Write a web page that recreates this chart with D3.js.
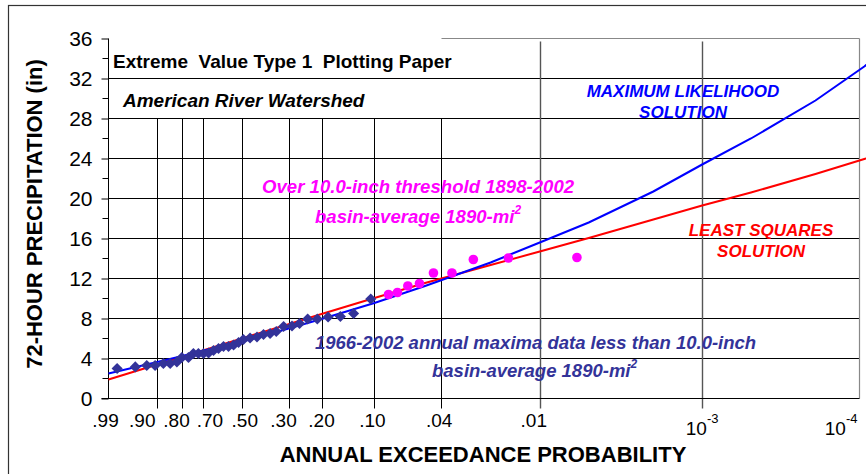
<!DOCTYPE html>
<html>
<head>
<meta charset="utf-8">
<script src="https://cdn.jsdelivr.net/npm/d3@7"></script>
<style>
  html, body { margin: 0; padding: 0; background: #fff; }
  svg { display: block; font-family: "Liberation Sans", Arial, Helvetica, sans-serif; }
  text { white-space: pre; }
</style>
</head>
<body>
<svg id="chart" width="866" height="474"></svg>
<script>
// ---------------- data ----------------
const yTicks = [0, 4, 8, 12, 16, 20, 24, 28, 32, 36];
const yMinorTicks = [2, 6, 10, 14, 18, 22, 26, 30, 34];
const xTickProbs = [0.99, 0.90, 0.80, 0.70, 0.50, 0.30, 0.20, 0.10, 0.04, 0.01, 0.001, 0.0001];
const xTickLabels = [".99", ".90", ".80", ".70", ".50", ".30", ".20", ".10", ".04", ".01", "10|-3", "10|-4"];
const xDomainProbs = [0.99, 0.000107];

// 1966-2002 annual maxima below 10.0 inch (exceedance probability, inches)
const annualProbs = [0.983, 0.957, 0.931, 0.907, 0.879, 0.853, 0.825, 0.803, 0.772, 0.748,
  0.723, 0.697, 0.671, 0.645, 0.619, 0.593, 0.567, 0.541, 0.516, 0.492,
  0.460, 0.428, 0.399, 0.371, 0.346, 0.318, 0.288, 0.263, 0.238, 0.211,
  0.184, 0.157, 0.132, 0.105];
const annualValues = [3.0, 3.16, 3.3, 3.3, 3.5, 3.5, 3.66, 4.1, 4.1, 4.5,
  4.5, 4.5, 4.55, 4.8, 5.0, 5.2, 5.2, 5.35, 5.6, 5.9,
  6.05, 6.15, 6.4, 6.5, 6.7, 7.2, 7.25, 7.5, 7.95, 7.95,
  8.15, 8.2, 8.5, 9.95];

// over 10.0-inch threshold 1898-2002
const thresholdProbs = [0.0826, 0.0731, 0.0634, 0.0540, 0.0445, 0.0344, 0.0255, 0.01557, 0.00591];
const thresholdValues = [10.4, 10.6, 11.25, 11.5, 12.55, 12.55, 13.9, 14.05, 14.1];

// fitted frequency curves
const curveProbs = [0.99, 0.9, 0.8, 0.7, 0.5, 0.3, 0.2, 0.1, 0.05, 0.02, 0.01, 0.005, 0.002, 0.001, 0.0005, 0.0002, 0.0001, 0.00009];
const mlValues = [2.5, 3.65, 4.25, 4.78, 5.68, 7.0, 7.95, 9.55, 11.25, 13.6, 15.6, 17.6, 20.7, 23.4, 26.0, 29.8, 33.2, 33.8];
const lsValues = [1.9, 3.4, 4.18, 4.8, 6.0, 7.43, 8.45, 10.05, 11.55, 13.35, 14.7, 16.05, 17.9, 19.3, 20.6, 22.45, 23.95, 24.15];

// ---------------- drawing ----------------
(function () {
const gumbel = p => -Math.log(-Math.log(1 - p));
const svg = d3.select("#chart");
const pLeft = 108.5, pRight = 859.5, pTop = 38.5, pBottom = 398.5;
// small horizontal nudges of the tick labels (they were hand placed in the original)
const labelNudge = [-3, -15, -6, 7, 3, -5, 0, -2, -2, -6, 0, 0];

const x = d3.scaleLinear().domain(xDomainProbs.map(gumbel)).range([pLeft, pRight]);
const y = d3.scaleLinear().domain([0, 36]).range([pBottom, pTop]);
const px = p => Math.round(x(gumbel(p))) + 0.5;

svg.append("rect").attr("width", 866).attr("height", 474).attr("fill", "#fff");
// outer frame
svg.append("rect").attr("x", 8.5).attr("y", 5.5).attr("width", 900).attr("height", 500)
  .attr("fill", "none").attr("stroke", "#333").attr("stroke-width", 1.2);

// horizontal gridlines
svg.append("g").selectAll("line").data(yTicks.filter(v => v > 0 && v < 36)).join("line")
  .attr("x1", pLeft).attr("x2", pRight).attr("y1", d => y(d)).attr("y2", d => y(d))
  .attr("stroke", "#000").attr("stroke-width", 1);

// vertical gridlines (black, up to 28) for .90 ... .04
const gridProbs = xTickProbs.filter(p => p < 0.99 && p >= 0.04);
svg.append("g").selectAll("line").data(gridProbs).join("line")
  .attr("x1", px).attr("x2", px).attr("y1", y(28)).attr("y2", pBottom + 10)
  .attr("stroke", "#000").attr("stroke-width", 1);
// grey gridlines for .01 and 10^-3 (full height)
svg.append("g").selectAll("line").data(xTickProbs.filter(p => p < 0.04 && p > 0.0001)).join("line")
  .attr("x1", px).attr("x2", px).attr("y1", pTop + 3).attr("y2", pBottom + 10)
  .attr("stroke", "#555").attr("stroke-width", 1.4);

// plot border (grey) right and top-right
svg.append("line").attr("x1", pRight).attr("x2", pRight).attr("y1", pTop).attr("y2", pBottom)
  .attr("stroke", "#888").attr("stroke-width", 1.2);
svg.append("line").attr("x1", px(0.04)).attr("x2", pRight).attr("y1", pTop).attr("y2", pTop)
  .attr("stroke", "#888").attr("stroke-width", 1.2);

// y axis
const yAxis = d3.axisLeft(y).tickValues(yTicks).tickSize(7).tickPadding(9).tickFormat(d3.format("d"));
const gy = svg.append("g").attr("transform", `translate(${pLeft},0)`).call(yAxis);
gy.select(".domain").attr("stroke", "#000").attr("d", `M0,${pTop}V${pBottom}`);
gy.selectAll(".tick line").attr("stroke", "#000");
gy.selectAll(".tick text").attr("font-size", 21).attr("fill", "#000")
  .attr("font-family", "Liberation Sans, Arial, sans-serif");
svg.append("g").selectAll("line").data(yMinorTicks).join("line")
  .attr("x1", pLeft - 6).attr("x2", pLeft).attr("y1", d => y(d)).attr("y2", d => y(d))
  .attr("stroke", "#000");

// x axis line
svg.append("line").attr("x1", pLeft - 7).attr("x2", pRight).attr("y1", pBottom).attr("y2", pBottom)
  .attr("stroke", "#000");

// x tick labels
xTickProbs.forEach((p, i) => {
  const lab = xTickLabels[i];
  const cx = x(gumbel(p)) + labelNudge[i];
  if (lab.includes("|")) {
    const parts = lab.split("|");
    const t = svg.append("text").attr("y", 435).attr("font-size", 19).attr("fill", "#000");
    t.append("tspan").text(parts[0]);
    t.append("tspan").attr("font-size", 13).attr("dy", -12).text(parts[1]);
    const w = t.node().getComputedTextLength();
    let sx = cx - w / 2;
    if (sx + w > pRight - 2) sx = pRight - 2 - w;
    t.attr("x", sx);
  } else {
    svg.append("text").attr("x", cx).attr("y", 426.7).attr("text-anchor", "middle")
      .attr("font-size", 19).attr("fill", "#000").text(lab);
  }
});

// curves
const line = d3.line().x(d => x(gumbel(d[0]))).y(d => y(d[1]));
svg.append("path").datum(curveProbs.map((p, i) => [p, lsValues[i]]))
  .attr("d", line).attr("fill", "none").attr("stroke", "#ff0000").attr("stroke-width", 2);
svg.append("path").datum(curveProbs.map((p, i) => [p, mlValues[i]]))
  .attr("d", line).attr("fill", "none").attr("stroke", "#0000ff").attr("stroke-width", 2);

// annual maxima diamonds
const diamond = d3.symbol().type(d3.symbolSquare).size(62);
svg.append("g").selectAll("path").data(annualProbs.map((p, i) => [p, annualValues[i]])).join("path")
  .attr("d", diamond)
  .attr("transform", d => `translate(${x(gumbel(d[0]))},${y(d[1])}) rotate(45)`)
  .attr("fill", "#333399");

// threshold circles
svg.append("g").selectAll("circle").data(thresholdProbs.map((p, i) => [p, thresholdValues[i]])).join("circle")
  .attr("cx", d => x(gumbel(d[0]))).attr("cy", d => y(d[1])).attr("r", 4.8)
  .attr("fill", "#ff00ff");

// annotations
function label(xp, yp, str, opts) {
  const t = svg.append("text").attr("x", xp).attr("y", yp)
    .attr("font-size", opts.size).attr("font-weight", "bold")
    .attr("font-style", opts.italic ? "italic" : "normal")
    .attr("fill", opts.color).attr("text-anchor", opts.anchor || "start");
  if (opts.sup) {
    t.append("tspan").text(str);
    t.append("tspan").attr("font-size", 12).attr("dy", -9).text(opts.sup);
  } else {
    t.text(str);
  }
  return t;
}
label(113, 68.3, "Extreme  Value Type 1  Plotting Paper", { size: 19, color: "#000" });
label(123, 107.3, "American River Watershed", { size: 19, color: "#000", italic: true });
label(262, 192.7, "Over 10.0-inch threshold 1898-2002", { size: 18.6, color: "#ff00ff", italic: true });
label(315, 222.5, "basin-average 1890-mi", { size: 18.6, color: "#ff00ff", italic: true, sup: "2" });
label(683, 97.3, "MAXIMUM LIKELIHOOD", { size: 17, color: "#0000ff", italic: true, anchor: "middle" });
label(683, 117.7, "SOLUTION", { size: 17, color: "#0000ff", italic: true, anchor: "middle" });
label(761, 235.7, "LEAST SQUARES", { size: 17, color: "#ff0000", italic: true, anchor: "middle" });
label(761, 257.3, "SOLUTION", { size: 17, color: "#ff0000", italic: true, anchor: "middle" });
label(315, 349, "1966-2002 annual maxima data less than 10.0-inch", { size: 18.5, color: "#333399", italic: true });
label(432, 377, "basin-average 1890-mi", { size: 18.5, color: "#333399", italic: true, sup: "2" });

// axis titles
svg.append("text").attr("x", 483).attr("y", 461.7).attr("text-anchor", "middle")
  .attr("font-size", 22).attr("font-weight", "bold").attr("fill", "#000")
  .text("ANNUAL EXCEEDANCE PROBABILITY");
svg.append("text").attr("transform", "translate(42,214) rotate(-90)").attr("text-anchor", "middle")
  .attr("font-size", 22).attr("font-weight", "bold").attr("fill", "#000")
  .text("72-HOUR PRECIPITATION (in)");
})();
</script>
</body>
</html>
